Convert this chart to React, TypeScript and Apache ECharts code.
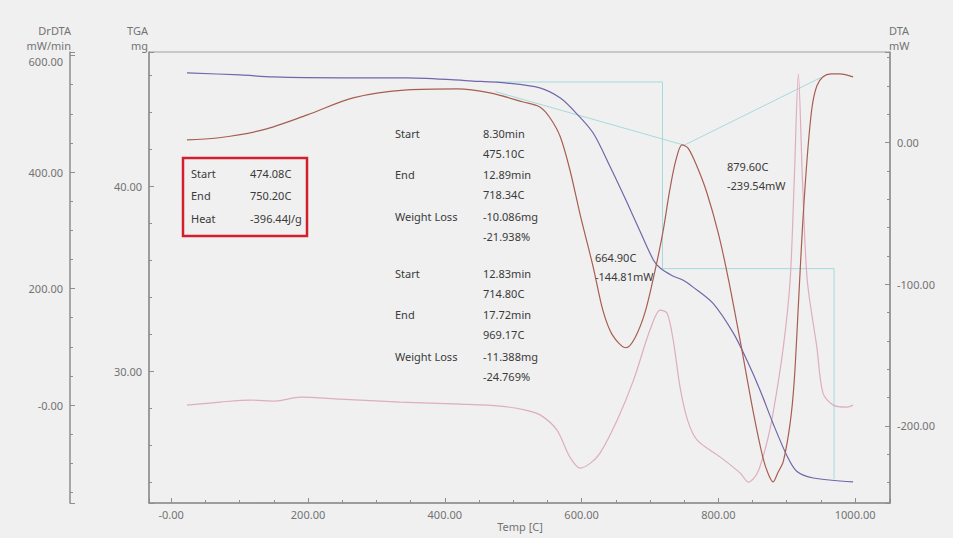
import React, { useEffect, useRef } from "react";
import * as echarts from "echarts";

// ---- TGA (mg) ----
const tgaTemp = [23, 101, 149, 247, 345, 441, 491, 539, 569, 592, 617, 642, 667, 686, 705, 715, 732, 748, 763, 792, 822, 842, 861, 880, 901, 915, 939, 997];
const tgaMass = [46.15, 46.04, 45.93, 45.88, 45.88, 45.71, 45.6, 45.34, 44.79, 43.98, 42.9, 41.06, 39.1, 37.55, 36.04, 35.6, 35.2, 34.95, 34.57, 33.7, 32.08, 30.6, 29.0, 27.2, 25.4, 24.6, 24.25, 24.04];

// ---- DTA (mW) ----
const dtaTemp = [23, 67, 134, 199, 266, 345, 418, 466, 515, 539, 554, 569, 583, 598, 617, 631, 645, 665, 678, 693, 707, 719, 729, 738, 747, 756, 769, 783, 800, 815, 832, 851, 865, 873, 880, 887, 895, 905, 911, 917, 923, 930, 937, 944, 953, 965, 978, 997];
const dtaPower = [1.9, 3.3, 9.0, 19.6, 31.6, 37.2, 37.9, 35.1, 28.7, 25.2, 17.4, 4.0, -19.3, -51, -87.8, -118.1, -135.7, -144.8, -137.9, -119.5, -91.3, -63, -33.4, -12.2, -1.6, -4, -17, -35, -64, -97, -140, -190, -222, -234, -239.5, -233, -225, -198, -168, -115, -60, -10, 25, 40, 46.5, 48.5, 48.5, 46.4];

// ---- DrDTA (mW/min) ----
const drdtaTemp = [23, 72, 116, 152, 189, 247, 335, 423, 481, 518, 540, 564, 583, 598, 613, 627, 652, 676, 700, 715, 725, 734, 744, 755, 769, 803, 832, 844, 857, 870, 880, 895, 905, 911, 917, 923, 930, 944, 953, 968, 988, 997];
const drdtaRate = [0, 5.2, 8.6, 6.9, 13.7, 10.3, 5.2, 1.7, -1.7, -8.6, -17.2, -42.9, -89.3, -108.2, -99.6, -82.4, -25.8, 42.9, 128.8, 163.1, 157.9, 111.6, 30.9, -25.8, -60.1, -89.3, -116.7, -132.2, -116.7, -68.7, -13.7, 99.6, 214.6, 386.3, 568.2, 386.3, 214.6, 99.6, 20.6, 0, -3.4, 0];

// ---- analysis construction lines ----
const step1Temp = [475.1, 718.34, 718.34];
const step1Mass = [45.66, 45.66, 35.57];
const step2Temp = [714.8, 969.17, 969.17];
const step2Mass = [35.57, 35.57, 24.18];
const base1Temp = [474.08, 750.2];
const base1Power = [36.0, -1.8];
const base2Temp = [750.2, 950];
const base2Power = [-1.8, 46];

// ---- annotation texts ----
const heatLabels = ["Start", "End", "Heat"];
const heatValues = ["474.08C", "750.20C", "-396.44J/g"];
const stepLabels = ["Start", "", "End", "", "Weight Loss", "", "Start", "", "End", "", "Weight Loss", ""];
const stepValues = ["8.30min", "475.10C", "12.89min", "718.34C", "-10.086mg", "-21.938%", "12.83min", "714.80C", "17.72min", "969.17C", "-11.388mg", "-24.769%"];
const peak1Text = ["664.90C", "-144.81mW"];
const peak2Text = ["879.60C", "-239.54mW"];

// ---- axes ----
const xRange = [-32.5, 1051];
const tgaRange = [22.9, 47.28];
const dtaRange = [-254.4, 64];
const drdtaRange = [-168, 606];

const zip = (a: number[], b: number[]) => a.map((v, i) => [v, b[i]]);

const FONT = "Noto Sans";
const AX = "#8e8e8e";
const LAB = "#737373";
const TXT = "#3a3a3a";

function fmt(step: number, negZero: boolean, topValue?: number) {
  return (v: number) => {
    const r = Math.abs(v / step - Math.round(v / step));
    if (r > 1e-6) return "";
    let s: string;
    if (Math.abs(v) < 1e-9) s = negZero ? "-0.00" : "0.00";
    else s = v.toFixed(2);
    if (topValue !== undefined && Math.abs(v - topValue) < 1e-6) return "{low|" + s + "}";
    return s;
  };
}

function axisCommon(step: number, minorSplit: number, negZero: boolean, topValue?: number) {
  return {
    type: "value" as const,
    minInterval: step,
    maxInterval: step,
    splitNumber: 4,
    axisLine: { show: true, onZero: false, lineStyle: { color: AX, width: 1.5 } },
    axisTick: { show: true, inside: true, length: 5, lineStyle: { color: AX, width: 1 } },
    minorTick: { show: true, splitNumber: minorSplit, length: 3, lineStyle: { color: AX, width: 1 } },
    splitLine: { show: false },
    minorSplitLine: { show: false },
    axisLabel: {
      color: LAB,
      fontSize: 11,
      fontFamily: FONT,
      formatter: fmt(step, negZero, topValue),
      rich: { low: { color: LAB, fontSize: 11, fontFamily: FONT, padding: [13, 0, 0, 0] } },
    },
  };
}

export default function App() {
  const ref = useRef<HTMLDivElement>(null);
  useEffect(() => {
    const chart = echarts.init(ref.current!, null, { renderer: "svg" });
    const txt = (text: string, x: number, y: number, align = "left", fill = TXT) => ({
      type: "text",
      x,
      y,
      style: { text, fill, fontSize: 11, fontFamily: FONT, align, verticalAlign: "middle" },
    });
    const graphics: any[] = [];
    graphics.push(txt("DrDTA", 71, 30, "right", LAB), txt("mW/min", 71, 45, "right", LAB));
    graphics.push(txt("TGA", 148, 30, "right", LAB), txt("mg", 148, 45, "right", LAB));
    graphics.push(txt("DTA", 889, 30, "left", LAB), txt("mW", 889, 45, "left", LAB));
    graphics.push(txt("Temp [C]", 520, 526, "center", LAB));
    graphics.push({
      type: "rect",
      shape: { x: 183, y: 158, width: 124, height: 78 },
      style: { fill: "none", stroke: "#d21f2e", lineWidth: 2.5 },
    });
    heatLabels.forEach((t, i) => graphics.push(txt(t, 191, 173 + i * 22.5)));
    heatValues.forEach((t, i) => graphics.push(txt(t, 250, 173 + i * 22.5)));
    const stepY = [133, 153, 174, 194, 216, 236, 273, 293, 314, 334, 356, 376];
    stepLabels.forEach((t, i) => t && graphics.push(txt(t, 395, stepY[i])));
    stepValues.forEach((t, i) => graphics.push(txt(t, 483, stepY[i])));
    peak1Text.forEach((t, i) => graphics.push(txt(t, 595, 257 + i * 19.5)));
    peak2Text.forEach((t, i) => graphics.push(txt(t, 727, 166 + i * 19.5)));

    const lineBase = { type: "line" as const, showSymbol: false, symbol: "none", silent: true };
    const cyan = "#a6dada";
    const xa = axisCommon(200, 4, true);
    const ya0 = axisCommon(10, 5, false);
    const ya1 = axisCommon(100, 5, false);
    const ya2 = axisCommon(200, 4, true, 600);
    const option: any = {
      animation: false,
      backgroundColor: "#f0f0f0",
      grid: { left: 149, right: 63, top: 52, bottom: 35, show: true, borderColor: "#a0a0a0", borderWidth: 1, backgroundColor: "transparent" },
      xAxis: { ...xa, min: xRange[0], max: xRange[1], position: "bottom", axisLabel: { ...xa.axisLabel, margin: 6 } },
      yAxis: [
        { ...ya0, min: tgaRange[0], max: tgaRange[1], position: "left", offset: 0, axisLabel: { ...ya0.axisLabel, margin: 7 } },
        { ...ya1, min: dtaRange[0], max: dtaRange[1], position: "right", offset: 0, axisLabel: { ...ya1.axisLabel, margin: 7 } },
        { ...ya2, min: drdtaRange[0], max: drdtaRange[1], position: "left", offset: 79, axisLabel: { ...ya2.axisLabel, margin: 7 } },
      ],
      series: [
        { ...lineBase, name: "step1", yAxisIndex: 0, data: zip(step1Temp, step1Mass), lineStyle: { color: cyan, width: 1 } },
        { ...lineBase, name: "step2", yAxisIndex: 0, data: zip(step2Temp, step2Mass), lineStyle: { color: cyan, width: 1 } },
        { ...lineBase, name: "base1", yAxisIndex: 1, data: zip(base1Temp, base1Power), lineStyle: { color: cyan, width: 1 } },
        { ...lineBase, name: "base2", yAxisIndex: 1, data: zip(base2Temp, base2Power), lineStyle: { color: cyan, width: 1 } },
        { ...lineBase, name: "DrDTA", yAxisIndex: 2, smooth: 0.3, data: zip(drdtaTemp, drdtaRate), lineStyle: { color: "#deadbf", width: 1.2 } },
        { ...lineBase, name: "TGA", yAxisIndex: 0, smooth: 0.3, data: zip(tgaTemp, tgaMass), lineStyle: { color: "#7167aa", width: 1.2 } },
        { ...lineBase, name: "DTA", yAxisIndex: 1, smooth: 0.3, data: zip(dtaTemp, dtaPower), lineStyle: { color: "#a65e52", width: 1.2 } },
      ],
      graphic: graphics,
    };
    chart.setOption(option);
    return () => chart.dispose();
  }, []);
  return (
    <div
      ref={ref}
      style={{ position: "fixed", left: 0, top: 0, width: 953, height: 538, background: "#f0f0f0" }}
    />
  );
}
